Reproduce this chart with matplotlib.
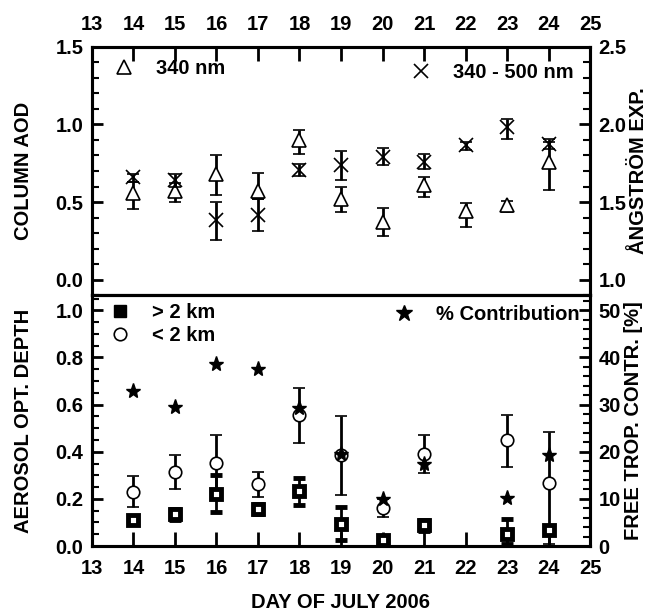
import matplotlib
matplotlib.use('Agg')
import matplotlib.pyplot as plt
import numpy as np
from matplotlib.lines import Line2D
from matplotlib.ticker import MultipleLocator

plt.rcParams['font.family'] = ['Liberation Sans', 'DejaVu Sans']
plt.rcParams['font.weight'] = 'bold'
plt.rcParams['font.size'] = 14.5

# ---- top panel: column AOD (340 nm) and Angstrom exponent (340-500 nm)
days = [14, 15, 16, 17, 18, 19, 20, 21, 22, 23, 24]
aod340 = [0.56, 0.57, 0.68, 0.57, 0.90, 0.52, 0.37, 0.61, 0.44, 0.48, 0.76]
aod340_lo = [0.455, 0.50, 0.545, 0.52, 0.81, 0.438, 0.278, 0.534, 0.342, 0.438, 0.577]
aod340_hi = [0.63, 0.62, 0.806, 0.69, 0.966, 0.594, 0.46, 0.66, 0.496, 0.508, 0.887]
ang = [1.66, 1.64, 1.385, 1.417, 1.705, 1.737, 1.79, 1.758, 1.865, 1.983, 1.876]
ang_lo = [1.63, 1.60, 1.256, 1.31, 1.667, 1.64, 1.737, 1.71, 1.838, 1.908, 1.844]
ang_hi = [1.68, 1.68, 1.50, 1.52, 1.744, 1.83, 1.85, 1.808, 1.887, 2.036, 1.908]

# ---- bottom panel: layer AOD above/below 2 km and free troposphere contribution
days_b = [14, 15, 16, 17, 18, 19, 20, 21, 23, 24]
ft = [0.112, 0.134, 0.221, 0.158, 0.235, 0.095, 0.025, 0.088, 0.053, 0.067]
ft_lo = [0.10, 0.109, 0.144, 0.134, 0.175, 0.025, 0.015, 0.065, 0.01, 0.05]
ft_hi = [0.124, 0.155, 0.30, 0.179, 0.289, 0.165, 0.035, 0.109, 0.116, 0.085]
bl = [0.231, 0.315, 0.354, 0.263, 0.555, 0.385, 0.163, 0.389, 0.448, 0.268]
bl_lo = [0.165, 0.24, 0.235, 0.207, 0.438, 0.217, 0.123, 0.308, 0.337, 0.01]
bl_hi = [0.298, 0.387, 0.473, 0.312, 0.669, 0.553, 0.20, 0.469, 0.557, 0.483]
contr = [32.8, 29.5, 38.7, 37.5, 29.3, 19.5, 10.0, 17.4, 10.2, 19.3]


def err(v, lo, hi):
    v = np.array(v); return [v - np.array(lo), np.array(hi) - v]


def style(ax):
    for s in ax.spines.values():
        s.set_linewidth(2.2)
    ax.tick_params(which='major', direction='in', length=8, width=2, labelsize=14.5, pad=6)
    ax.tick_params(which='minor', direction='in', length=5, width=1.5)


fig = plt.figure(figsize=(6.52, 6.14), dpi=100)
ax1 = fig.add_axes([0.141, 0.5195, 0.764, 0.404])
ax2 = fig.add_axes([0.141, 0.1107, 0.764, 0.4088])
ax1r = ax1.twinx()
ax2r = ax2.twinx()

ebkw = dict(ecolor='black', elinewidth=2, capsize=4.5, capthick=2, ls='none')

ax1.errorbar(days, aod340, yerr=err(aod340, aod340_lo, aod340_hi), marker='^',
             ms=10, mfc='white', mec='black', mew=1.2, **ebkw)
ax1r.errorbar(days, ang, yerr=err(ang, ang_lo, ang_hi), marker='x',
              ms=10, mec='black', mew=1.2, **ebkw)

ax2.errorbar(days_b, bl, yerr=err(bl, bl_lo, bl_hi), marker='o',
             ms=9, mfc='white', mec='black', mew=1.2, **ebkw)
ax2.errorbar(days_b, ft, yerr=err(ft, ft_lo, ft_hi), marker='s',
             ms=7, mfc='white', mec='black', mew=3.5, **ebkw)
ax2r.plot(days_b, contr, ls='none', marker='*', ms=11, color='black')

for ax in (ax1, ax2, ax1r, ax2r):
    ax.set_xlim(13, 25)
    ax.xaxis.set_major_locator(MultipleLocator(1))
    style(ax)

ax1.set_ylim(-0.1, 1.5)
ax1.set_yticks([0.0, 0.5, 1.0, 1.5])
ax1.yaxis.set_minor_locator(MultipleLocator(0.1))
ax1r.set_ylim(0.9, 2.5)
ax1r.set_yticks([1.0, 1.5, 2.0, 2.5])
ax1r.yaxis.set_minor_locator(MultipleLocator(0.1))
ax1.tick_params(axis='x', top=True, bottom=False, labeltop=True, labelbottom=False,
                length=10, pad=9)
ax1r.tick_params(axis='x', top=False, bottom=False, labelbottom=False)

ax2.set_ylim(0, 1.065)
ax2.set_yticks([0.0, 0.2, 0.4, 0.6, 0.8, 1.0])
ax2.yaxis.set_minor_locator(MultipleLocator(0.05))
ax2r.set_ylim(0, 53.25)
ax2r.set_yticks([0, 10, 20, 30, 40, 50])
ax2r.yaxis.set_minor_locator(MultipleLocator(2))
ax2.tick_params(axis='x', top=False, bottom=True, length=10, pad=9)
ax2r.tick_params(axis='x', top=False, bottom=False, labelbottom=False)

ax1.set_yticklabels(['0.0', '0.5', '1.0', '1.5'])
ax1r.set_yticklabels(['1.0', '1.5', '2.0', '2.5'])
ax2.set_yticklabels(['0.0', '0.2', '0.4', '0.6', '0.8', '1.0'])

ax1.set_ylabel('COLUMN AOD', fontsize=14.5, fontweight='bold', labelpad=16)
ax1r.set_ylabel('ÅNGSTRÖM EXP.', fontsize=14.5, fontweight='bold', labelpad=2)
ax2.set_ylabel('AEROSOL OPT. DEPTH', fontsize=14.5, fontweight='bold', labelpad=16)
ax2r.set_ylabel('FREE TROP. CONTR. [%]', fontsize=14.5, fontweight='bold', labelpad=2)
ax2.set_xlabel('DAY OF JULY 2006', fontsize=14.5, fontweight='bold', labelpad=11)

lp = {'weight': 'bold', 'size': 14.5}
h_tri = Line2D([], [], ls='none', marker='^', ms=10, mfc='white', mec='black', mew=1.2)
h_x = Line2D([], [], ls='none', marker='x', ms=10, mec='black', mew=1.2)
h_sq = Line2D([], [], ls='none', marker='s', ms=9, color='black')
h_ci = Line2D([], [], ls='none', marker='o', ms=9, mfc='white', mec='black', mew=1.2)
h_st = Line2D([], [], ls='none', marker='*', ms=12, color='black')

ax1.legend([h_tri], ['340 nm'], loc='upper left', frameon=False, prop=lp,
           handletextpad=0.6, borderaxespad=0.2)
ax1r.legend([h_x], ['340 - 500 nm'], loc='upper right', frameon=False, prop=lp,
            handletextpad=0.6, borderaxespad=0.4)
ax2.legend([h_sq, h_ci], ['> 2 km', '< 2 km'], loc='upper left', frameon=False, prop=lp,
           handletextpad=0.6, borderaxespad=0.0, labelspacing=0.2)
ax2r.legend([h_st], ['% Contribution'], loc='upper right', frameon=False, prop=lp,
            handletextpad=0.6, borderaxespad=0.1)

fig.savefig('out.png', dpi=100)
